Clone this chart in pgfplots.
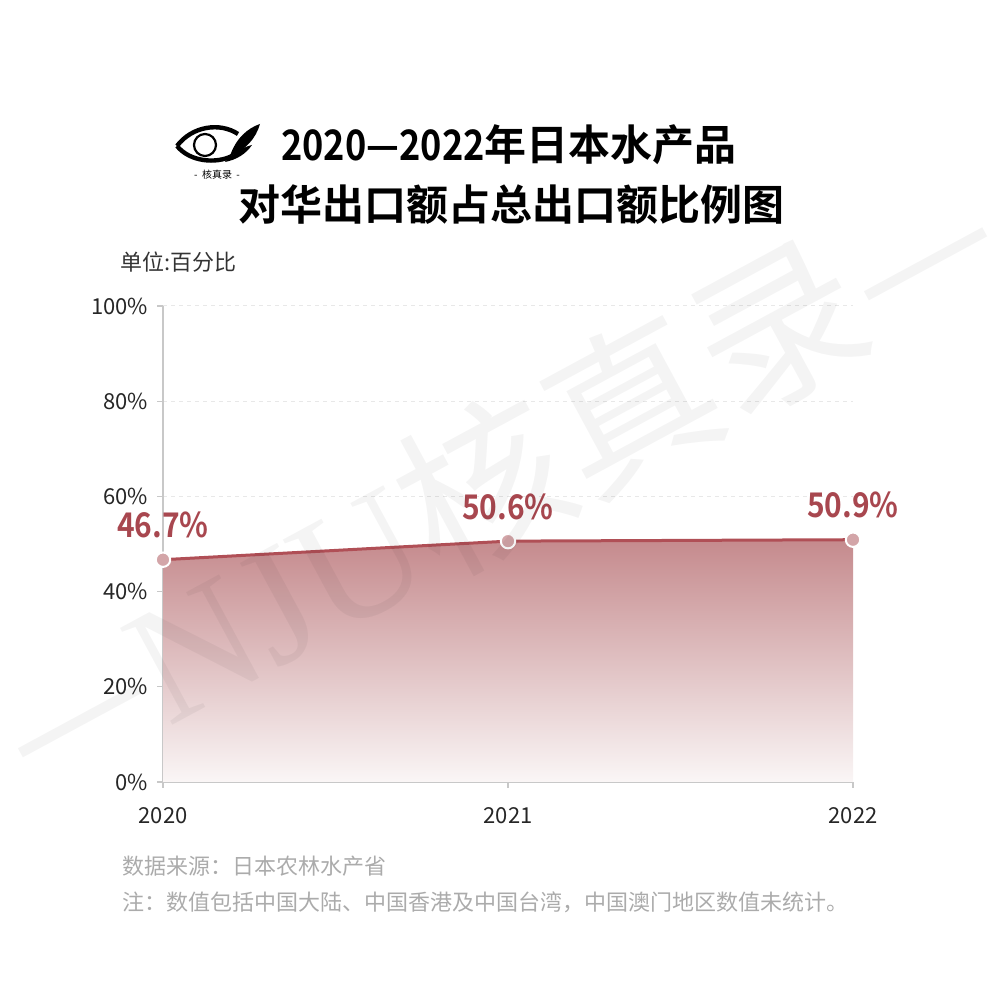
\documentclass[border=0pt]{standalone}
\usepackage{fontspec}
\setmainfont{Noto Sans CJK SC}[BoldFont={Noto Sans CJK SC Bold}]
\newfontfamily\titlefont{Noto Sans CJK SC Bold}
\newfontfamily\labfont[FakeStretch=0.88]{Noto Sans CJK SC Bold}
\newfontfamily\wmserif{Liberation Serif}
\usepackage{pgfplots}
\pgfplotsset{compat=1.18}
\definecolor{linec}{HTML}{B04F56}
\definecolor{labc}{HTML}{A8474F}
\definecolor{markc}{HTML}{D3A5A8}
\definecolor{areatop}{HTML}{C58A8D}
\definecolor{areabot}{HTML}{FAF6F6}
\definecolor{footc}{HTML}{ABABAB}
\definecolor{axc}{HTML}{C8C8C8}
\begin{document}
\begin{tikzpicture}
\path[use as bounding box] (0pt,0pt) rectangle (500pt,497pt);
\begin{scope}[x=0.5pt,y=0.5pt]
% logo
\draw[line width=2.2pt,black] (177,848) .. controls (192,868) and (220,872) .. (238,860);
\draw[line width=2.2pt,black] (177,848) .. controls (190,832) and (216,830) .. (232,838);
\draw[line width=1.1pt,black] (205,849) circle (11);
\fill[black] (230,838) .. controls (236,856) and (248,866) .. (260,870) .. controls (256,856) and (246,844) .. (230,838);
\fill[black] (225,832) .. controls (234,842) and (244,847) .. (252,849) .. controls (246,840) and (236,834) .. (225,832);
\node[font=\fontsize{5}{6}\selectfont] at (217,819) {-\ \ 核真录\ \ -};
% title
\node[font=\titlefont\fontsize{21}{24}\selectfont] at (509,849) {\scalebox{0.86}[1]{2020—2022}年日本水产品};
\node[font=\titlefont\fontsize{21}{24}\selectfont] at (511,789) {对华出口额占总出口额比例图};
\node[anchor=west,inner sep=0pt,font=\fontsize{11}{13}\selectfont,text=black!80] at (120,732) {单位:百分比};
\end{scope}
\begin{axis}[
  at={(81.5pt,106pt)}, anchor=south west,
  scale only axis, width=345pt, height=238pt,
  xmin=2020, xmax=2022, ymin=0, ymax=100,
  axis x line*=bottom, axis y line*=left,
  axis line style={axc, line width=0.6pt},
  xtick={2020,2021,2022}, xticklabels={2020,2021,2022},
  ytick={0,20,40,60,80,100},
  yticklabels={0\%,20\%,40\%,60\%,80\%,100\%},
  tick align=outside, major tick length=3pt,
  tick style={axc, line width=0.6pt},
  ymajorgrids, major grid style={gray!18, dash pattern=on 2pt off 2pt, line width=0.5pt},
  ticklabel style={font=\fontsize{11}{13}\selectfont, text=black!85},
  xticklabel style={yshift=-6pt},
  yticklabel style={xshift=-1pt},
  clip=false,
]
\addplot[draw=none, top color=areatop, bottom color=areabot] coordinates {(2020,46.7) (2021,50.6) (2022,50.9)} \closedcycle;
\addplot[color=linec, line width=1.5pt, mark=*, mark size=3.6pt,
  mark options={fill=markc, draw=white, line width=1pt},
  point meta=explicit symbolic,
  nodes near coords,
  nodes near coords style={anchor=base, inner sep=0pt, yshift=11pt, text=labc, font=\labfont\fontsize{17}{18}\selectfont}]
  coordinates {(2020,46.7) [46.7\%] (2021,50.6) [50.6\%] (2022,50.9) [50.9\%]};
\end{axis}
\begin{scope}[x=0.5pt,y=0.5pt]
\node[anchor=west,inner sep=0pt,font=\fontsize{11}{13}\selectfont,text=footc] at (122,128) {数据来源：日本农林水产省};
\node[anchor=west,inner sep=0pt,font=\fontsize{11}{13}\selectfont,text=footc] at (122,92) {注：数值包括中国大陆、中国香港及中国台湾，中国澳门地区数值未统计。};
% watermark
\node[overlay, rotate=28.4, opacity=0.045, text=black, font=\fontsize{84}{86}\selectfont] at (495,516) {—{\wmserif NJU}核真录—};
\end{scope}
\end{tikzpicture}
\end{document}
